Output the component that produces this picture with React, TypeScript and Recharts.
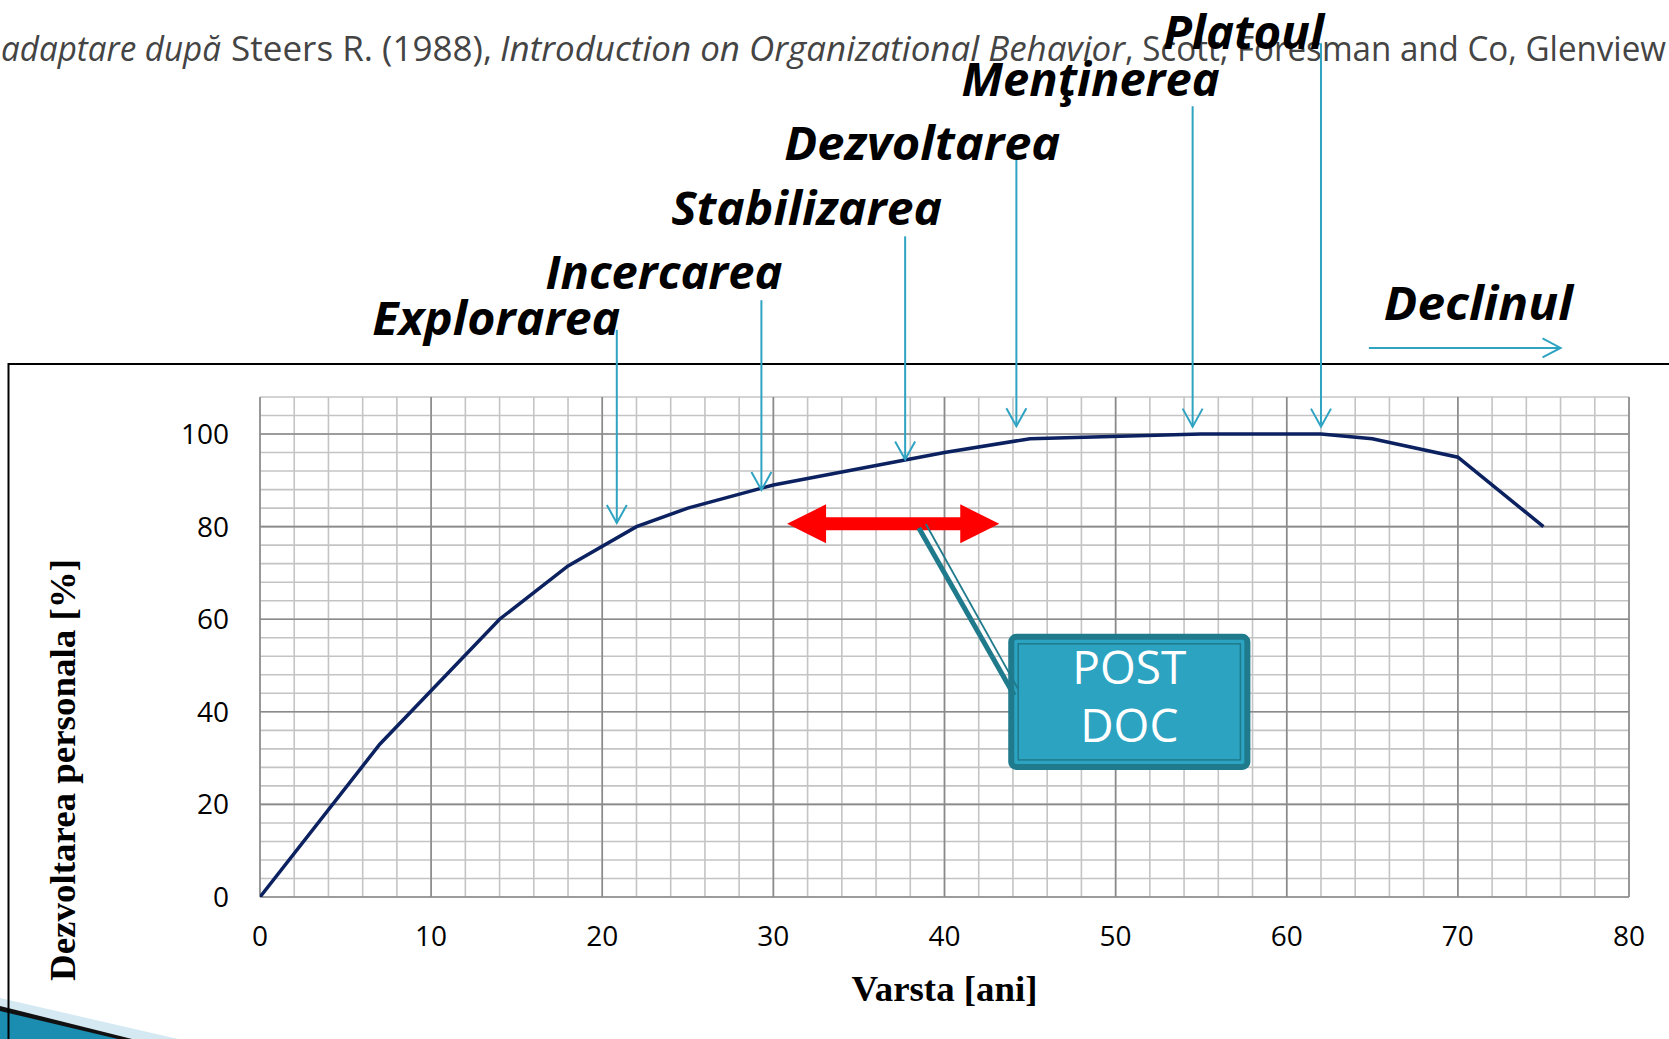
import React from 'react';
import {
  ComposedChart,
  Line,
  XAxis,
  YAxis,
  CartesianGrid,
  ReferenceLine,
  ReferenceArea,
} from 'recharts';

// ---------- data ----------
const ages = [0, 7, 14, 18, 22, 25, 30, 40, 45, 55, 62, 65, 70, 75];
const development = [0, 33, 60, 71.5, 80, 84, 89, 96, 99, 100, 100, 99, 95, 80];

const xTicks = [0, 10, 20, 30, 40, 50, 60, 70, 80];
const yTicks = [0, 20, 40, 60, 80, 100];
const xMinor = Array.from({ length: 41 }, (_, i) => i * 2);
const yMinor = Array.from({ length: 28 }, (_, i) => i * 4);

const phaseNames = ['Explorarea', 'Incercarea', 'Stabilizarea', 'Dezvoltarea', 'Menţinerea', 'Platoul'];
const phaseAges = [20.85, 29.3, 37.7, 44.2, 54.5, 62];
const phaseTips = [80.8, 87.9, 94.5, 101.7, 101.6, 101.6];
const phaseTops = [122.5, 128.9, 142.7, 159.2, 170.8, 184.4];

const declineName = 'Declinul';
const declineFrom = 64.8;
const declineTo = 76.0;
const declineLevel = 118.6;

const postDocFrom = 30.8;
const postDocTo = 43.2;
const postDocLevel = 80.6;
const postDocLabel = ['POST', 'DOC'];
const calloutStart = { x: 38.5, y: 79.7 };
const calloutEnd = { x: 44.07, y: 43.6 };
const boxX = [43.9, 57.7];
const boxY = [28.1, 56.2];

const xTitle = 'Varsta [ani]';
const yTitle = 'Dezvoltarea personala [%]';

// ---------- layout / style ----------
const W = 1669;
const H = 1039;
const Y_AXIS_W = 60;
const X_AXIS_H = 60;
const MARGIN = { top: 397, right: 40, bottom: 142 - X_AXIS_H, left: 260 - Y_AXIS_W };
const CYAN = '#2EA3C2';
const NAVY = '#0B2160';
const TEAL_DARK = '#1F7A8C';
const TEAL = '#2CA3C1';

// label placement for each phase: right edge offset from arrow, baseline offset from arrow top, width
const phaseLayout = [
  { dx: 3.5, dy: 5, w: 248 },
  { dx: 21, dy: -11.5, w: 237 },
  { dx: 37, dy: -11.6, w: 271 },
  { dx: 44, dy: 0, w: 276 },
  { dx: 27, dy: -10, w: 258 },
  { dx: 3, dy: 6, w: 161 },
];

const labelFont: React.CSSProperties = {
  fontFamily: '"Open Sans", sans-serif',
  fontWeight: 700,
  fontStyle: 'italic',
  fontSize: 46,
};

const chartData = ages.map((a, i) => ({ age: a, dev: development[i] }));

function PhaseArrow(props: any) {
  const { x1, y1, x2, y2, name, layout } = props;
  const x = x1;
  const top = Math.min(y1, y2);
  const tip = Math.max(y1, y2);
  return (
    <g>
      <line x1={x} y1={top} x2={x2} y2={tip} stroke={CYAN} strokeWidth={2} />
      <polyline
        points={`${x - 10},${tip - 18} ${x},${tip} ${x + 10},${tip - 18}`}
        fill="none"
        stroke={CYAN}
        strokeWidth={2}
      />
      <text
        x={x + layout.dx - layout.w}
        y={top + layout.dy}
        textLength={layout.w}
        lengthAdjust="spacingAndGlyphs"
        fill="#000"
        style={labelFont}
      >
        {name}
      </text>
    </g>
  );
}

function DeclineArrow(props: any) {
  const { x1, y1, x2 } = props;
  const L = Math.min(x1, x2);
  const R = Math.max(x1, x2);
  const y = y1;
  return (
    <g>
      <line x1={L} y1={y} x2={R} y2={y} stroke={CYAN} strokeWidth={2} />
      <polyline points={`${R - 18},${y - 9.5} ${R},${y} ${R - 18},${y + 9.5}`} fill="none" stroke={CYAN} strokeWidth={2} />
      <text x={L + 15} y={y - 28} textLength={189} lengthAdjust="spacingAndGlyphs" fill="#000" style={labelFont}>
        {declineName}
      </text>
    </g>
  );
}

function DoubleArrow(props: any) {
  const { x1, y1, x2 } = props;
  const L = Math.min(x1, x2);
  const R = Math.max(x1, x2);
  const cy = y1;
  const hl = 39;
  const hh = 19.5;
  const sh = 6.5;
  const pts = [
    [L, cy],
    [L + hl, cy - hh],
    [L + hl, cy - sh],
    [R - hl, cy - sh],
    [R - hl, cy - hh],
    [R, cy],
    [R - hl, cy + hh],
    [R - hl, cy + sh],
    [L + hl, cy + sh],
    [L + hl, cy + hh],
  ]
    .map((p) => p.join(','))
    .join(' ');
  return <polygon points={pts} fill="#FF0000" />;
}

function Callout(props: any) {
  const { x1, y1, x2, y2 } = props;
  return (
    <g>
      <line x1={x1} y1={y1} x2={x2} y2={y2} stroke={TEAL_DARK} strokeWidth={5} />
      <line x1={x1 + 7} y1={y1 - 4} x2={x2 + 4} y2={y2 - 6} stroke={TEAL_DARK} strokeWidth={1.8} />
    </g>
  );
}

function PostDocBox(props: any) {
  const { x, y, width, height } = props;
  const cx = x + width / 2;
  const tStyle: React.CSSProperties = { fontFamily: '"Open Sans", sans-serif', fontSize: 46 };
  return (
    <g>
      <rect x={x} y={y} width={width} height={height} rx={5} fill={TEAL} stroke={TEAL_DARK} strokeWidth={6} />
      <rect x={x + 7} y={y + 7} width={width - 14} height={height - 14} fill="none" stroke={TEAL_DARK} strokeWidth={1.5} />
      <text x={cx} y={y + 47.5} textAnchor="middle" fill="#fff" style={tStyle}>
        {postDocLabel[0]}
      </text>
      <text x={cx} y={y + 105.5} textAnchor="middle" fill="#fff" style={tStyle}>
        {postDocLabel[1]}
      </text>
    </g>
  );
}

const XTitle = (props: any) => {
  const vb = props.viewBox || { x: 260, y: 897, width: 1369, height: X_AXIS_H };
  return (
    <text
      x={vb.x + vb.width / 2}
      y={vb.y + 103.5}
      textAnchor="middle"
      textLength={186}
      lengthAdjust="spacingAndGlyphs"
      fill="#000"
      style={{ fontFamily: '"Liberation Serif", serif', fontWeight: 700, fontSize: 36 }}
    >
      {xTitle}
    </text>
  );
};

const YTitle = (props: any) => {
  const vb = props.viewBox || { x: 200, y: 397, width: Y_AXIS_W, height: 500 };
  const bx = vb.x - 125;
  const cy = vb.y + vb.height / 2 + 123;
  return (
    <text
      x={bx}
      y={cy}
      transform={`rotate(-90 ${bx} ${cy})`}
      textAnchor="middle"
      textLength={422}
      lengthAdjust="spacingAndGlyphs"
      fill="#000"
      style={{ fontFamily: '"Liberation Serif", serif', fontWeight: 700, fontSize: 36 }}
    >
      {yTitle}
    </text>
  );
};

const scaleOf = (axis: any, v: number, fallback: number) => {
  if (axis && typeof axis.scale === 'function') return axis.scale(v);
  return fallback;
};

const tickStyle = { fontFamily: '"Open Sans", sans-serif', fontSize: 28, fill: '#000' };

export default function App() {
  const subStyle: React.CSSProperties = { fontFamily: '"Open Sans", sans-serif', fontSize: 34, fill: '#444' };
  return (
    <div
      style={{
        position: 'absolute',
        left: 0,
        top: 0,
        width: W,
        height: H,
        overflow: 'hidden',
        background: '#fff',
        fontFamily: '"Open Sans", sans-serif',
      }}
    >
      <svg width={W} height={H} style={{ position: 'absolute', left: 0, top: 0 }}>
        {/* subtitle */}
        <text x={1} y={61} textLength={220} lengthAdjust="spacingAndGlyphs" style={{ ...subStyle, fontStyle: 'italic' }}>
          adaptare după
        </text>
        <text x={231} y={61} textLength={261} lengthAdjust="spacingAndGlyphs" style={subStyle}>
          Steers R. (1988),
        </text>
        <text x={500} y={61} textLength={625} lengthAdjust="spacingAndGlyphs" style={{ ...subStyle, fontStyle: 'italic' }}>
          Introduction on Organizational Behavior
        </text>
        <text x={1125} y={61} textLength={541} lengthAdjust="spacingAndGlyphs" style={subStyle}>
          , Scott, Foresman and Co, Glenview
        </text>
        {/* decorative swoosh */}
        <polygon points="0,998 178,1039 0,1039" fill="#d4e9f2" />
        <polygon points="0,1006 132,1039 0,1039" fill="#111" />
        <polygon points="0,1011 118,1039 0,1039" fill="#1b8db0" />
        {/* frame */}
        <path d={`M 8.5 ${H} V 364 H ${W}`} fill="none" stroke="#000" strokeWidth={2} />
      </svg>
      <div style={{ position: 'absolute', left: 0, top: 0 }}>
        <ComposedChart width={W} height={H} data={chartData} margin={MARGIN}>
          <CartesianGrid
            stroke="#c4c4c4"
            strokeWidth={1.6}
            horizontalCoordinatesGenerator={({ yAxis, offset }: any) =>
              yMinor.map((v) => scaleOf(yAxis, v, offset.top + offset.height * (1 - v / 108)))
            }
            verticalCoordinatesGenerator={({ xAxis, offset }: any) =>
              xMinor.map((v) => scaleOf(xAxis, v, offset.left + (offset.width * v) / 80))
            }
          />
          <CartesianGrid
            stroke="#8a8a8a"
            strokeWidth={1.6}
            horizontalCoordinatesGenerator={({ yAxis, offset }: any) =>
              yTicks.map((v) => scaleOf(yAxis, v, offset.top + offset.height * (1 - v / 108)))
            }
            verticalCoordinatesGenerator={({ xAxis, offset }: any) =>
              xTicks.map((v) => scaleOf(xAxis, v, offset.left + (offset.width * v) / 80))
            }
          />
          <XAxis
            dataKey="age"
            type="number"
            domain={[0, 80]}
            ticks={xTicks}
            height={X_AXIS_H}
            axisLine={false}
            tickLine={false}
            tickSize={0}
            tickMargin={29}
            tick={tickStyle}
            allowDataOverflow
            label={<XTitleWrap />}
          />
          <YAxis
            type="number"
            domain={[0, 108]}
            ticks={yTicks}
            width={Y_AXIS_W}
            axisLine={false}
            tickLine={false}
            tickSize={0}
            tickMargin={31}
            tick={tickStyle}
            allowDataOverflow
            label={<YTitleWrap />}
          />
          <Line
            type="linear"
            dataKey="dev"
            stroke={NAVY}
            strokeWidth={3.5}
            dot={false}
            activeDot={false}
            isAnimationActive={false}
          />
          {phaseNames.map((name, i) => (
            <ReferenceLine
              key={name}
              ifOverflow="visible"
              segment={[
                { x: phaseAges[i], y: phaseTops[i] },
                { x: phaseAges[i], y: phaseTips[i] },
              ]}
              shape={(p: any) => <PhaseArrow {...p} name={name} layout={phaseLayout[i]} />}
            />
          ))}
          <ReferenceLine
            ifOverflow="visible"
            segment={[
              { x: declineFrom, y: declineLevel },
              { x: declineTo, y: declineLevel },
            ]}
            shape={(p: any) => <DeclineArrow {...p} />}
          />
          <ReferenceLine
            ifOverflow="visible"
            segment={[
              { x: postDocFrom, y: postDocLevel },
              { x: postDocTo, y: postDocLevel },
            ]}
            shape={(p: any) => <DoubleArrow {...p} />}
          />
          <ReferenceLine
            ifOverflow="visible"
            segment={[calloutStart, calloutEnd]}
            shape={(p: any) => <Callout {...p} />}
          />
          <ReferenceArea
            x1={boxX[0]}
            x2={boxX[1]}
            y1={boxY[0]}
            y2={boxY[1]}
            ifOverflow="visible"
            shape={(p: any) => <PostDocBox {...p} />}
          />
        </ComposedChart>
      </div>
    </div>
  );
}

function XTitleWrap(props: any) {
  return <XTitle {...props} />;
}
function YTitleWrap(props: any) {
  return <YTitle {...props} />;
}
